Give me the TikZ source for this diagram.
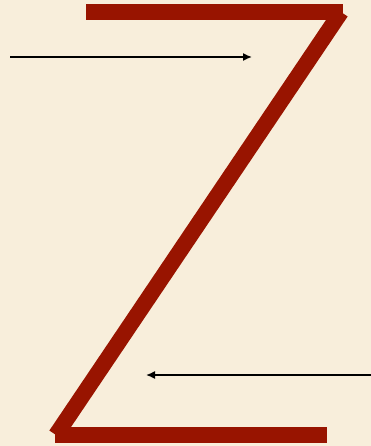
\documentclass[tikz,border=0pt]{standalone}
\usepackage{xcolor}
\usepackage{tikz}
\usetikzlibrary{arrows.meta}
\definecolor{paper}{HTML}{F8EEDB}
\definecolor{zRed}{HTML}{981400}

\begin{document}
\begin{tikzpicture}[x=1pt, y=-1pt, bar/.style={draw=zRed, line width=16pt, line cap=butt}, ptr/.style={draw=black, line width=1.5pt, -{Latex[length=9pt, width=8pt]}}]
\fill[paper] (0,0) rectangle (371,446);
\useasboundingbox (0,0) rectangle (371,446);
\coordinate (topL) at (86,12); \coordinate (topR) at (343,12);
\coordinate (diagT) at (341,12); \coordinate (diagB) at (56,435);
\coordinate (botL) at (55,435); \coordinate (botR) at (327,435);
\coordinate (inTail) at (10,57); \coordinate (inTip) at (252,57);
\coordinate (outTail) at (371,375); \coordinate (outTip) at (146,375);
\draw[bar] (topL)--(topR);
\draw[bar] (diagT)--(diagB);
\draw[bar] (botL)--(botR);
\draw[ptr] (inTail)--(inTip);
\draw[ptr] (outTail)--(outTip);
\end{tikzpicture}
\end{document}
